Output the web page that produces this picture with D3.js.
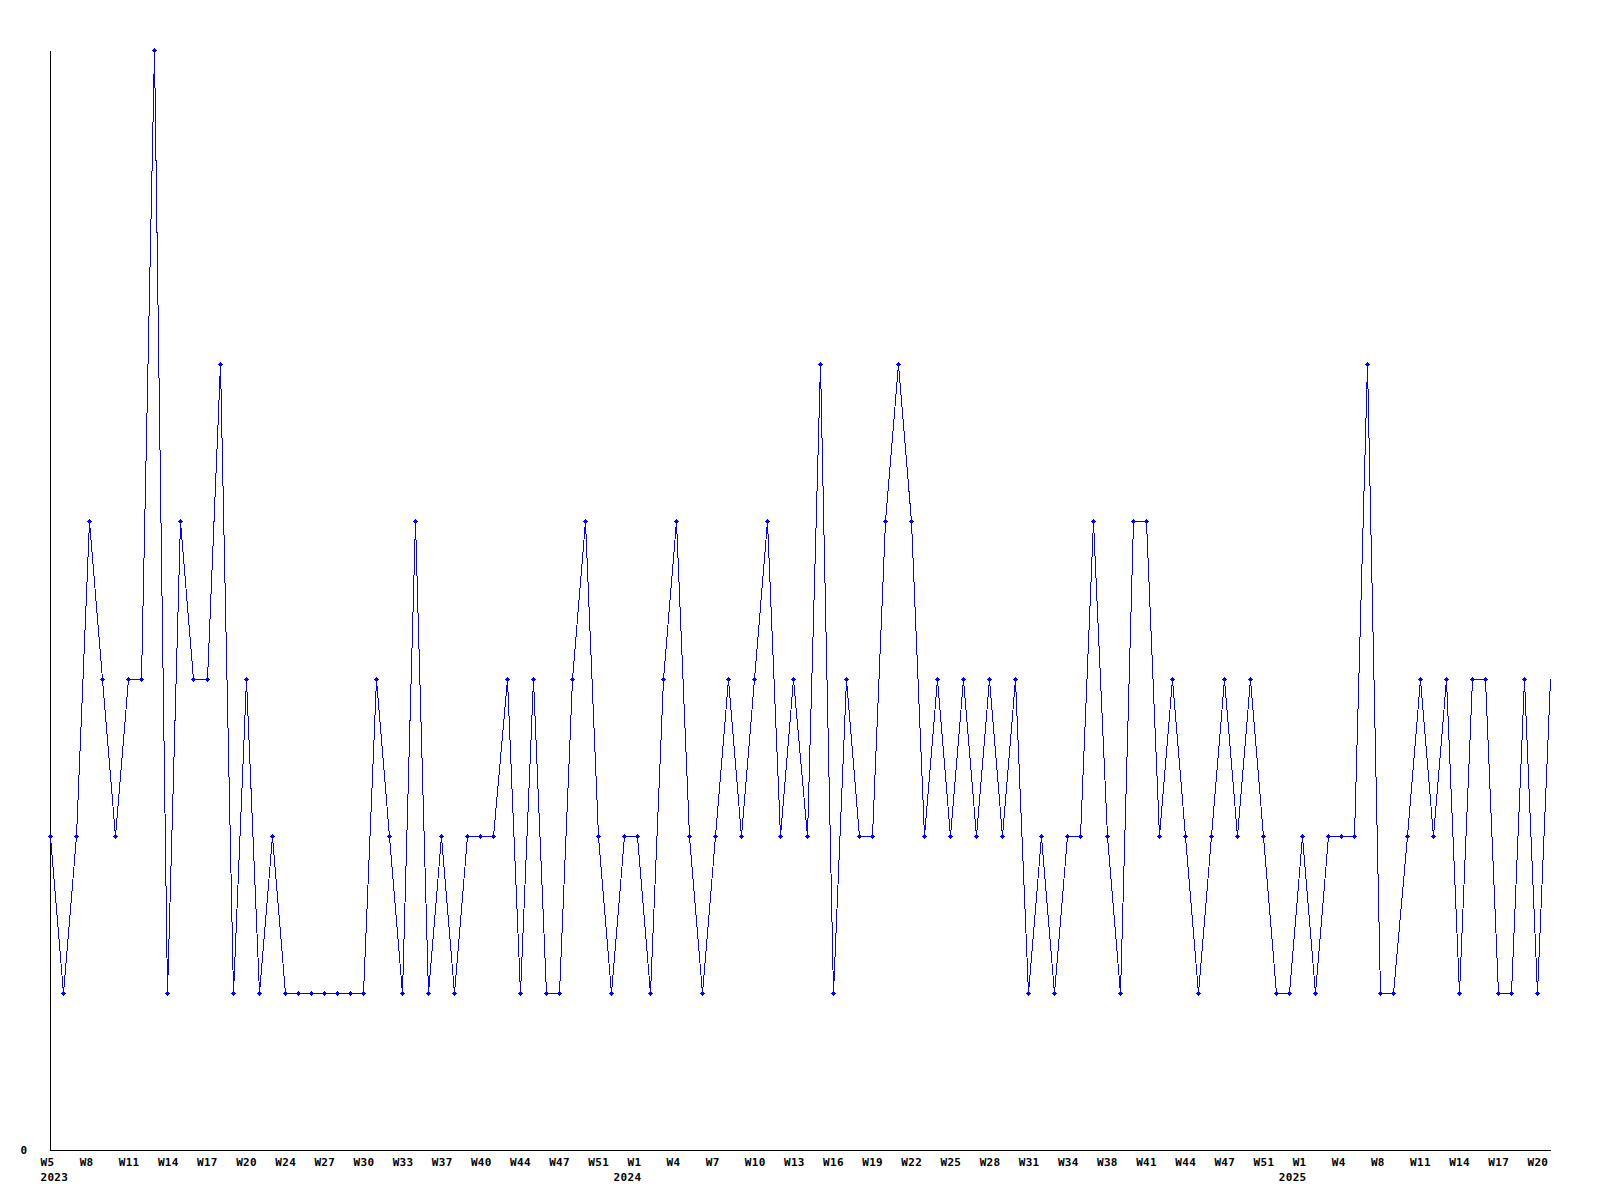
<!DOCTYPE html>
<html><head><meta charset="utf-8">
<script src="https://cdn.jsdelivr.net/npm/d3@7"></script>
<style>body{margin:0;background:#fff}svg{display:block}</style>
</head><body>
<script>
// ---- data ----
const years = [2023, 2024, 2025];
const weeks2023 = [5,6,7,8,9,10,11,12,13,14,15,16,17,18,19,20,21,23,24,25,26,27,28,29,30,31,32,33,34,36,37,38,39,40,41,43,44,45,46,47,48,50,51,52,53];
const weeks2024 = [1,2,3,4,5,6,7,8,9,10,11,12,13,14,15,16,17,18,19,20,21,22,23,24,25,26,27,28,29,30,31,32,33,34,35,37,38,39,40,41,42,43,44,45,46,47,48,50,51,52,53];
const weeks2025 = [1,2,3,4,5,7,8,9,10,11,12,13,14,15,16,17,18,19,20,21];
const values = [
  2,1,2,4,3,2,3,3,7,1, 4,3,3,5,1,3,1,2,1,1,
  1,1,1,1,1,3,2,1,4,1, 2,1,2,2,2,3,1,3,1,1,
  3,4,2,1,2,2,1,3,4,2, 1,2,3,2,3,4,2,3,2,5,
  1,3,2,2,4,5,4,2,3,2, 3,2,3,2,3,1,2,1,2,2,
  4,2,1,4,4,2,3,2,1,2, 3,2,3,2,1,1,2,1,2,2,
  2,5,1,1,2,3,2,3,1,3, 3,1,1,3,1,3
];
const yTickValues = [0];
const labelEvery = 3;

// ---- build ----
const weekLists = [weeks2023, weeks2024, weeks2025];
const data = [];
years.forEach((yr, k) => weekLists[k].forEach(w => data.push({year: yr, week: w, key: yr + "-W" + w})));
data.forEach((d, i) => d.value = values[i]);

const W = 1600, H = 1200;
const svg = d3.select("body").append("svg").attr("width", W).attr("height", H);

const x = d3.scalePoint().domain(data.map(d => d.key)).range([50, 1550]);
const y = d3.scaleLinear().domain([0, 7]).range([1150, 50]);
const px = d => Math.round(x(d.key)) + 0.5;
const py = d => Math.round(y(d.value)) + 0.5;

const font = "'DejaVu Sans Mono', monospace";

// x axis
const tickKeys = data.filter((d, i) => i % labelEvery === 0).map(d => d.key);
const byKey = new Map(data.map(d => [d.key, d]));
const xAxis = svg.append("g").attr("transform", "translate(0,1150)")
  .call(d3.axisBottom(x).tickValues(tickKeys).tickSize(0).tickSizeOuter(0)
    .tickFormat(k => "W" + byKey.get(k).week));
xAxis.attr("font-family", font).attr("font-size", 11).attr("font-weight", "bold").attr("letter-spacing", "0.3px");
xAxis.select(".domain").attr("stroke", "#000").attr("shape-rendering", "crispEdges");
xAxis.selectAll(".tick text").attr("text-anchor", "start").attr("x", -10).attr("y", 16).attr("dy", null).attr("fill", "#000");

// year labels under first tick of each year
const firstIdx = new Set();
data.forEach((d, i) => { if (i === 0 || data[i - 1].year !== d.year) firstIdx.add(d.key); });
xAxis.selectAll(".tick").each(function(k) {
  if (!firstIdx.has(k)) return;
  const d = byKey.get(k);
  const t = d3.select(this).append("text").attr("fill", "#000").attr("y", 31).text(d.year);
  if (d.key === data[0].key) t.attr("text-anchor", "start").attr("x", -10);
  else t.attr("text-anchor", "middle").attr("x", -10);
});

// y axis
const yAxis = svg.append("g").attr("transform", "translate(50,0)")
  .call(d3.axisLeft(y).tickValues(yTickValues).tickSize(0).tickSizeOuter(0).tickPadding(23).tickFormat(d3.format("d")));
yAxis.attr("font-family", font).attr("font-size", 11).attr("font-weight", "bold");
yAxis.select(".domain").attr("stroke", "#000").attr("shape-rendering", "crispEdges");
yAxis.selectAll(".tick text").attr("fill", "#000").attr("dy", "0.32em");

// line
svg.append("path").datum(data)
  .attr("fill", "none").attr("stroke", "#0000ff").attr("stroke-width", 1)
  .attr("shape-rendering", "crispEdges")
  .attr("d", d3.line().x(px).y(py));

// markers (last, in-progress week drawn without marker)
const mk = svg.append("g").attr("fill", "#0000ff").attr("shape-rendering", "crispEdges");
const markerData = data.slice(0, data.length - 1);
mk.selectAll("rect.h").data(markerData).join("rect").attr("class", "h")
  .attr("x", d => px(d) - 2.5).attr("y", d => py(d) - 0.5).attr("width", 5).attr("height", 1);
mk.selectAll("rect.v").data(markerData).join("rect").attr("class", "v")
  .attr("x", d => px(d) - 0.5).attr("y", d => py(d) - 2.5).attr("width", 1).attr("height", 5);
mk.selectAll("rect.c").data(markerData).join("rect").attr("class", "c")
  .attr("x", d => px(d) - 1.5).attr("y", d => py(d) - 1.5).attr("width", 3).attr("height", 3);
</script>
</body></html>
